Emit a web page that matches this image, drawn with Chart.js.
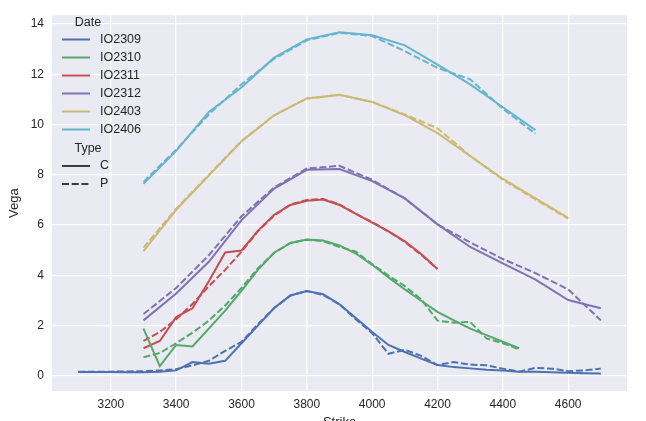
<!DOCTYPE html>
<html>
<head>
<meta charset="utf-8">
<script src="https://cdn.jsdelivr.net/npm/chart.js@4.4.0/dist/chart.umd.min.js"></script>
<style>
  html, body { margin: 0; padding: 0; background: #fff; overflow: hidden; }
  canvas { display: block; }
</style>
</head>
<body>
<canvas id="chart" width="646" height="440"></canvas>
<script>
// expiries and their colours (seaborn "deep")
const expiries = ['IO2309', 'IO2310', 'IO2311', 'IO2312', 'IO2403', 'IO2406'];
const colors = ['#4C72B0', '#55A868', '#C44E52', '#8172B2', '#CCB974', '#64B5CD'];
const types = ['C', 'P'];

const xTicks = [3200, 3400, 3600, 3800, 4000, 4200, 4400, 4600];
const yTicks = [0, 2, 4, 6, 8, 10, 12, 14];

// IO2309
const strikes2309 = [3100, 3150, 3200, 3250, 3300, 3350, 3400, 3450, 3500, 3550, 3600, 3650, 3700, 3750, 3800, 3850, 3900,
  3950, 4000, 4050, 4100, 4150, 4200, 4250, 4300, 4350, 4400, 4450, 4500, 4550, 4600, 4650, 4700];
const call2309 = [0.16, 0.16, 0.16, 0.15, 0.15, 0.17, 0.22, 0.55, 0.48, 0.60, 1.30, 2.00, 2.70, 3.20, 3.38, 3.25, 2.85,
  2.30, 1.75, 1.23, 0.95, 0.69, 0.43, 0.35, 0.30, 0.25, 0.22, 0.17, 0.17, 0.15, 0.13, 0.11, 0.10];
const put2309 = [0.17, 0.17, 0.17, 0.18, 0.19, 0.22, 0.27, 0.42, 0.60, 1.00, 1.35, 2.05, 2.70, 3.20, 3.38, 3.22, 2.85,
  2.25, 1.70, 0.88, 1.04, 0.80, 0.43, 0.55, 0.45, 0.42, 0.29, 0.17, 0.32, 0.29, 0.19, 0.22, 0.29];

// IO2310
const strikes2310 = [3300, 3350, 3400, 3450, 3500, 3550, 3600, 3650, 3700, 3750, 3800, 3850, 3900, 3950, 4000, 4050,
  4100, 4150, 4200, 4250, 4300, 4350, 4400, 4450];
const call2310 = [1.88, 0.39, 1.23, 1.17, 1.88, 2.60, 3.38, 4.22, 4.90, 5.29, 5.43, 5.39, 5.19, 4.87, 4.42, 3.92,
  3.44, 2.99, 2.55, 2.21, 1.88, 1.62, 1.36, 1.10];
const put2310 = [0.74, 0.91, 1.30, 1.72, 2.20, 2.80, 3.50, 4.28, 4.90, 5.29, 5.42, 5.36, 5.13, 4.94, 4.45, 3.99,
  3.57, 3.05, 2.20, 2.12, 2.15, 1.49, 1.30, 1.06];

// IO2311
const strikes2311 = [3300, 3350, 3400, 3450, 3500, 3550, 3600, 3650, 3700, 3750, 3800, 3850, 3900, 3950, 4000, 4050,
  4100, 4150, 4200];
const call2311 = [1.10, 1.39, 2.34, 2.69, 3.77, 4.91, 4.99, 5.77, 6.41, 6.80, 6.97, 7.02, 6.80, 6.45, 6.10, 5.75,
  5.35, 4.85, 4.25];
const put2311 = [1.39, 1.75, 2.25, 2.86, 3.57, 4.22, 4.94, 5.75, 6.38, 6.82, 7.00, 7.04, 6.82, 6.45, 6.12, 5.75,
  5.33, 4.82, 4.25];

// IO2312
const strikes2312 = [3300, 3400, 3500, 3600, 3700, 3800, 3900, 4000, 4100, 4200, 4300, 4400, 4500, 4600, 4700];
const call2312 = [2.21, 3.28, 4.54, 6.20, 7.45, 8.20, 8.23, 7.75, 7.06, 6.03, 5.13, 4.48, 3.83, 3.02, 2.69];
const put2312 = [2.46, 3.50, 4.80, 6.35, 7.50, 8.25, 8.36, 7.80, 7.06, 6.03, 5.31, 4.65, 4.09, 3.44, 2.21];

// IO2403
const strikes2403 = [3300, 3400, 3500, 3600, 3700, 3800, 3900, 4000, 4100, 4200, 4300, 4400, 4500, 4600];
const call2403 = [4.96, 6.61, 7.97, 9.33, 10.37, 11.04, 11.18, 10.90, 10.37, 9.66, 8.75, 7.84, 7.06, 6.29];
const put2403 = [5.10, 6.65, 8.00, 9.35, 10.37, 11.04, 11.18, 10.90, 10.40, 9.85, 8.75, 7.80, 7.02, 6.26];

// IO2406
const strikes2406 = [3300, 3400, 3500, 3600, 3700, 3800, 3900, 4000, 4100, 4200, 4300, 4400, 4500];
const call2406 = [7.64, 8.95, 10.50, 11.47, 12.66, 13.39, 13.67, 13.55, 13.15, 12.38, 11.60, 10.69, 9.78];
const put2406 = [7.72, 9.00, 10.40, 11.60, 12.62, 13.35, 13.65, 13.52, 12.92, 12.25, 11.80, 10.63, 9.63];

const strikeLists = [strikes2309, strikes2310, strikes2311, strikes2312, strikes2403, strikes2406];
const callLists = [call2309, call2310, call2311, call2312, call2403, call2406];
const putLists = [put2309, put2310, put2311, put2312, put2403, put2406];

const textColor = '#262626';
const dash = [7, 2.7];
Chart.defaults.font.family = "'Liberation Sans', Arial, sans-serif";

const datasets = [];
expiries.forEach((name, i) => {
  [callLists[i], putLists[i]].forEach((vals, k) => {
    datasets.push({
      label: name + ' ' + types[k],
      data: strikeLists[i].map((s, j) => ({ x: s, y: vals[j] })),
      borderColor: colors[i],
      borderWidth: 2,
      borderDash: k === 1 ? dash : [],
      pointRadius: 0,
      tension: 0,
      fill: false,
    });
  });
});

// grey panel behind the plot
const panelBg = {
  id: 'panelBg',
  beforeDraw(chart) {
    const { ctx, chartArea: a } = chart;
    ctx.save();
    ctx.fillStyle = '#fff';
    ctx.fillRect(0, 0, chart.width, chart.height);
    ctx.fillStyle = '#EAEAF2';
    ctx.fillRect(a.left, a.top, a.right - a.left, a.bottom - a.top);
    ctx.restore();
  }
};

// two-part legend (Date / Type) inside the plot
const sectionLegend = {
  id: 'sectionLegend',
  afterDraw(chart) {
    const ctx = chart.ctx;
    ctx.save();
    ctx.font = "12.5px 'Liberation Sans', Arial, sans-serif";
    ctx.textBaseline = 'middle';
    ctx.fillStyle = textColor;
    ctx.textAlign = 'center';
    ctx.fillText('Date', 88, 23);
    let y = 39.5;
    const row = (color, dashed, label) => {
      ctx.beginPath();
      ctx.strokeStyle = color;
      ctx.lineWidth = 2;
      ctx.setLineDash(dashed ? dash : []);
      ctx.moveTo(62, y);
      ctx.lineTo(90, y);
      ctx.stroke();
      ctx.setLineDash([]);
      ctx.textAlign = 'left';
      ctx.fillStyle = textColor;
      ctx.fillText(label, 100, y);
      y += 18;
    };
    expiries.forEach((name, i) => row(colors[i], false, name));
    ctx.textAlign = 'center';
    ctx.fillText('Type', 88, 148.5);
    y = 166;
    types.forEach((t, k) => row('#3b3b3b', k === 1, t));
    ctx.restore();
  }
};

new Chart(document.getElementById('chart'), {
  type: 'line',
  data: { datasets: datasets },
  options: {
    responsive: false,
    animation: false,
    layout: { padding: { left: 0, right: 19, top: 6, bottom: 0 } },
    plugins: { legend: { display: false }, tooltip: { enabled: false } },
    scales: {
      x: {
        type: 'linear',
        min: 3020,
        max: 4780,
        afterBuildTicks: s => { s.ticks = xTicks.map(v => ({ value: v })); },
        afterFit: s => { s.height = 49; },
        grid: { color: '#fff', lineWidth: 1.3, drawTicks: false },
        border: { display: false },
        ticks: { padding: 6, color: textColor, font: { size: 12 }, maxRotation: 0, autoSkip: false,
          callback: v => String(v) },
        title: { display: true, text: 'Strike', color: textColor, font: { size: 13 },
          padding: { top: 0, bottom: 10 } }
      },
      y: {
        min: -0.6,
        max: 14.35,
        afterBuildTicks: s => { s.ticks = yTicks.map(v => ({ value: v })); },
        afterFit: s => { s.width = 52; },
        grid: { color: '#fff', lineWidth: 1.3, drawTicks: false },
        border: { display: false },
        ticks: { padding: 8, color: textColor, font: { size: 12 }, callback: v => String(v) },
        title: { display: true, text: 'Vega', color: textColor, font: { size: 13 },
          padding: { top: 7, bottom: 0 } }
      }
    }
  },
  plugins: [panelBg, sectionLegend]
});
</script>
</body>
</html>
